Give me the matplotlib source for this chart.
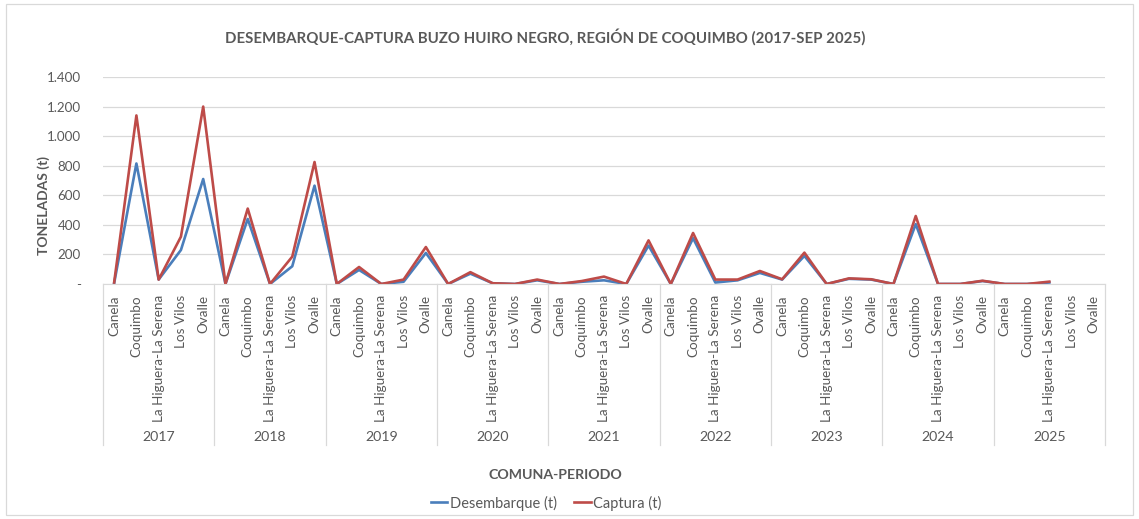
import numpy as np
import matplotlib.pyplot as plt
import matplotlib.transforms as mtransforms
from matplotlib.lines import Line2D
from matplotlib.ticker import FuncFormatter

plt.rcParams["font.family"] = ["Lato", "DejaVu Sans"]

years = ["2017", "2018", "2019", "2020", "2021", "2022", "2023", "2024", "2025"]
comunas = ["Canela", "Coquimbo", "La Higuera-La Serena", "Los Vilos", "Ovalle"]

desembarque = [
    5, 815, 30, 230, 710,      # 2017
    0, 440, 0, 120, 665,       # 2018
    0, 95, 0, 15, 210,         # 2019
    0, 70, 5, 0, 25,           # 2020
    0, 15, 25, 0, 260,         # 2021
    0, 310, 10, 25, 75,        # 2022
    30, 190, 0, 35, 30,        # 2023
    0, 405, 0, 0, 20,          # 2024
    0, 0, 10, np.nan, np.nan,  # 2025
]
captura = [
    10, 1140, 30, 320, 1200,
    0, 510, 0, 185, 825,
    0, 115, 0, 30, 250,
    0, 80, 5, 0, 30,
    0, 20, 50, 0, 295,
    0, 345, 30, 30, 88,
    32, 212, 0, 38, 32,
    0, 460, 0, 0, 22,
    0, 0, 16, np.nan, np.nan,
]

gray = "#595959"
grid_c = "#d9d9d9"

fig = plt.figure(figsize=(11.39, 5.19), dpi=100)
ax = fig.add_axes([103 / 1139, 1 - 284 / 519, 1002 / 1139, 207 / 519])

x = np.arange(len(desembarque))
ax.plot(x, desembarque, color="#4a7ebb", lw=1.9, label="Desembarque (t)")
ax.plot(x, captura, color="#be4b48", lw=1.9, label="Captura (t)")

ax.set_xlim(-0.5, len(x) - 0.5)
ax.set_ylim(0, 1400)
ax.set_yticks(np.arange(0, 1401, 200))
ax.yaxis.set_major_formatter(FuncFormatter(
    lambda v, p: "-" if v == 0 else f"{int(v):,}".replace(",", ".")))
ax.grid(axis="y", color=grid_c, lw=0.9)
ax.set_axisbelow(True)
for s in ["top", "right", "left"]:
    ax.spines[s].set_visible(False)
ax.spines["bottom"].set_color(grid_c)
ax.tick_params(axis="y", length=0, labelsize=9.6, labelcolor=gray, pad=16)

ax.set_xticks(x, labels=comunas * len(years), rotation=90, va="top")
ax.tick_params(axis="x", length=0, labelsize=9.7, labelcolor=gray, pad=8)

# year group labels and separators
trans = mtransforms.blended_transform_factory(ax.transData, ax.transAxes)
n = len(comunas)
for i, yr in enumerate(years):
    ax.text(i * n + (n - 1) / 2, -0.74, yr, transform=trans, ha="center",
            va="center", fontsize=10.2, color=gray)
for b in range(len(years) + 1):
    ax.add_line(Line2D([b * n - 0.5] * 2, [0, -0.78], transform=trans,
                       color=grid_c, lw=0.9, clip_on=False))

ax.set_ylabel("TONELADAS (t)", fontsize=10, fontweight="bold", color=gray)
ax.yaxis.set_label_coords(-0.053, 0.38)
fig.text(545 / 1139, 1 - 37 / 519,
         "DESEMBARQUE-CAPTURA BUZO HUIRO NEGRO, REGIÓN DE COQUIMBO (2017-SEP 2025)",
         ha="center", va="center", fontsize=10.8, fontweight="bold", color=gray)
fig.text(555 / 1139, 1 - 475 / 519, "COMUNA-PERIODO", ha="center",
         va="center", fontsize=10.2, fontweight="bold", color=gray)

leg = fig.legend(loc="center", bbox_to_anchor=(546 / 1139, 1 - 503 / 519),
                 ncol=2, frameon=False, fontsize=10.5, handlelength=1.15,
                 handletextpad=0.15, columnspacing=1.2)
for t in leg.get_texts():
    t.set_color(gray)

# chart area border
fig.add_artist(plt.Rectangle((6 / 1139, 4 / 519), 1127 / 1139, 511 / 519,
                             transform=fig.transFigure, fill=False,
                             edgecolor=grid_c, lw=0.9))

fig.savefig("out.png", dpi=100)
